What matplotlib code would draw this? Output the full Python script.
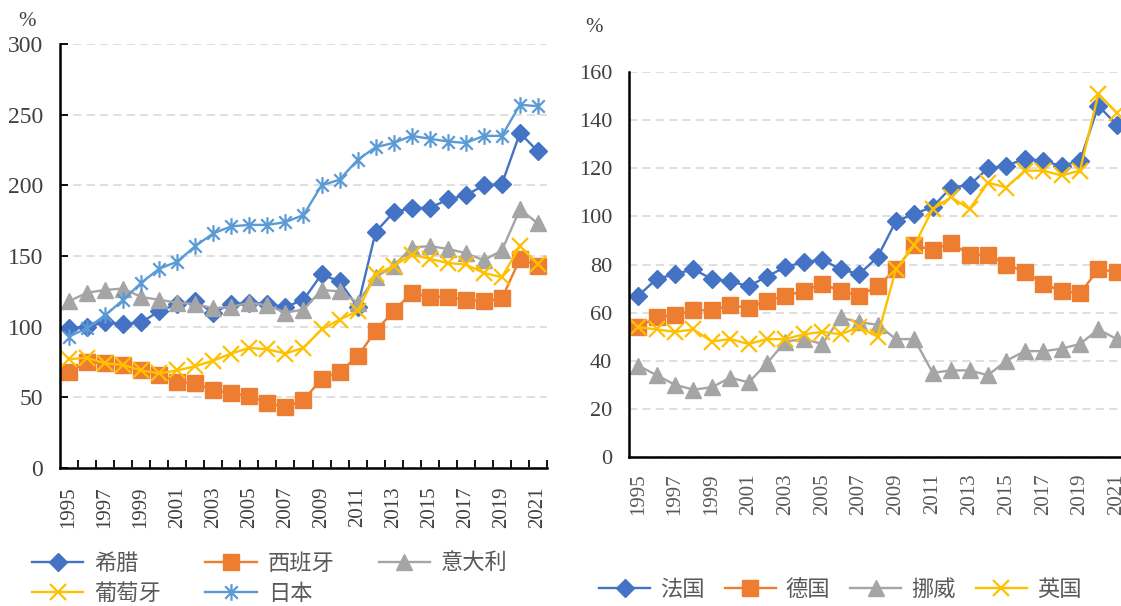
import numpy as np
import matplotlib
matplotlib.use("Agg")
import matplotlib.pyplot as plt
from matplotlib.path import Path

years = list(range(1995, 2022))
year_labels = [str(y) for y in years[::2]]

# left panel
greece = [99, 100, 103, 102, 103, 111, 116, 118, 110, 116, 117, 116, 114, 119, 137, 132, 114, 167, 181, 184, 184, 190, 193, 200, 201, 237, 224]
spain = [68, 75, 74, 73, 69, 66, 61, 60, 55, 53, 51, 46, 43, 48, 63, 68, 79, 97, 111, 124, 121, 121, 119, 118, 120, 148, 143]
italy = [118, 124, 126, 127, 121, 119, 117, 116, 113, 114, 117, 115, 110, 112, 126, 125, 117, 135, 143, 156, 157, 155, 152, 147, 154, 183, 173]
portugal = [77, 78, 74, 73, 69, 67, 69, 72, 76, 81, 85, 84, 81, 85, 98, 105, 111, 137, 143, 151, 148, 145, 144, 138, 135, 157, 144]
japan = [93, 99, 108, 119, 131, 141, 146, 157, 166, 171, 172, 172, 174, 179, 200, 204, 218, 227, 230, 235, 233, 231, 230, 235, 235, 257, 256]

# right panel
france = [67, 74, 76, 78, 74, 73, 71, 75, 79, 81, 82, 78, 76, 83, 98, 101, 104, 112, 113, 120, 121, 124, 123, 121, 123, 146, 138]
germany = [54, 58, 59, 61, 61, 63, 62, 65, 67, 69, 72, 69, 67, 71, 78, 88, 86, 89, 84, 84, 80, 77, 72, 69, 68, 78, 77]
norway = [38, 34, 30, 28, 29, 33, 31, 39, 48, 49, 47, 58, 56, 55, 49, 49, 35, 36, 36, 34, 40, 44, 44, 45, 47, 53, 49]
uk = [54, 53, 52, 53, 48, 49, 47, 49, 49, 51, 52, 51, 54, 50, 78, 88, 103, 108, 103, 114, 112, 119, 119, 117, 119, 151, 143]

BLUE, ORANGE, GRAY, GOLD, LBLUE = "#4472C4", "#ED7D31", "#A5A5A5", "#FFC000", "#5B9BD5"

# excel-like asterisk: vertical bar plus an x
star = Path([(0, -1), (0, 1), (-0.75, -0.75), (0.75, 0.75), (-0.75, 0.75), (0.75, -0.75)],
            [Path.MOVETO, Path.LINETO] * 3)

SERIF = "Liberation Serif"
CJK = ["Noto Sans CJK SC", "DejaVu Sans"]

W, H = 1121, 606
fig = plt.figure(figsize=(W / 100, H / 100), dpi=100)

def px_axes(l, t, r, b):
    return fig.add_axes([l / W, 1 - b / H, (r - l) / W, (b - t) / H])

def style(ax, ymax, ystep, xticks_in):
    x = np.arange(len(years))
    ax.set_xlim(-0.5, len(years) - 0.5)
    ax.set_ylim(0, ymax)
    ax.set_yticks(np.arange(0, ymax + 1, ystep))
    ax.set_xticks(x[::2], year_labels, rotation=90)
    for s in ("top", "right"):
        ax.spines[s].set_visible(False)
    for s in ("left", "bottom"):
        ax.spines[s].set_linewidth(1.8)
        ax.spines[s].set_color("black")
    ax.grid(axis="y", color="#D9D9D9", linestyle=(0, (5, 3)), linewidth=1.2)
    ax.set_axisbelow(True)
    ax.tick_params(axis="x", length=0, pad=13, labelsize=15, labelcolor="#404040")
    for lab in ax.get_xticklabels() + ax.get_yticklabels():
        lab.set_fontfamily(SERIF)
    if xticks_in:
        ax.set_xticks(np.arange(0.5, len(years) - 0.4, 1), minor=True)
        ax.tick_params(axis="x", which="minor", direction="in", length=6, width=1.3, color="black")
        ax.tick_params(axis="y", direction="in", length=6, width=1.3, pad=12,
                       labelsize=17, labelcolor="#404040")
    else:
        ax.tick_params(axis="y", length=0, pad=12, labelsize=16, labelcolor="#404040")

x = np.arange(len(years))
lw = 1.7

# ---------- left ----------
ax1 = px_axes(60, 44, 547, 468)
l_gr, = ax1.plot(x, greece, color=BLUE, lw=lw, marker="D", ms=9, label="希腊")
l_es, = ax1.plot(x, spain, color=ORANGE, lw=lw, marker="s", ms=12, label="西班牙")
l_it, = ax1.plot(x, italy, color=GRAY, lw=lw, marker="^", ms=11, label="意大利")
l_pt, = ax1.plot(x, portugal, color=GOLD, lw=lw, marker="x", ms=11, mew=1.6, label="葡萄牙")
l_jp, = ax1.plot(x, japan, color=LBLUE, lw=lw, marker=star, ms=12, mew=1.6, label="日本")
style(ax1, 300, 50, True)
fig.text(27 / W, 1 - 22 / H, "%", fontfamily=SERIF, fontsize=15, color="#404040",
         ha="center", va="center")

hs = [l_gr, l_pt, l_es, l_jp, l_it]
leg1 = fig.legend(hs, [h.get_label() for h in hs], ncol=3, loc="upper left",
                  bbox_to_anchor=(32 / W, 1 - 552 / H), frameon=False,
                  prop={"family": CJK, "size": 16}, handlelength=2.3, handletextpad=0.5,
                  columnspacing=2.0, labelspacing=0.3, borderpad=0, borderaxespad=0)
for t in leg1.get_texts():
    t.set_color("#595959")

# ---------- right ----------
ax2 = px_axes(629, 72, 1126, 457)
r_fr, = ax2.plot(x, france, color=BLUE, lw=lw, marker="D", ms=9, label="法国")
r_de, = ax2.plot(x, germany, color=ORANGE, lw=lw, marker="s", ms=12, label="德国")
r_no, = ax2.plot(x, norway, color=GRAY, lw=lw, marker="^", ms=11, label="挪威")
r_uk, = ax2.plot(x, uk, color=GOLD, lw=lw, marker="x", ms=11, mew=1.6, label="英国")
style(ax2, 160, 20, False)
ax2.tick_params(axis="x", pad=12, labelcolor="#595959")
fig.text(594 / W, 1 - 27 / H, "%", fontfamily=SERIF, fontsize=15, color="#404040",
         ha="center", va="center")

hs2 = [r_fr, r_de, r_no, r_uk]
leg2 = fig.legend(hs2, [h.get_label() for h in hs2], ncol=4, loc="upper left",
                  bbox_to_anchor=(599 / W, 1 - 578 / H), frameon=False,
                  prop={"family": CJK, "size": 16}, handlelength=2.3, handletextpad=0.45,
                  columnspacing=0.9, borderpad=0, borderaxespad=0)
for t in leg2.get_texts():
    t.set_color("#595959")

fig.savefig("out.png", dpi=100)
